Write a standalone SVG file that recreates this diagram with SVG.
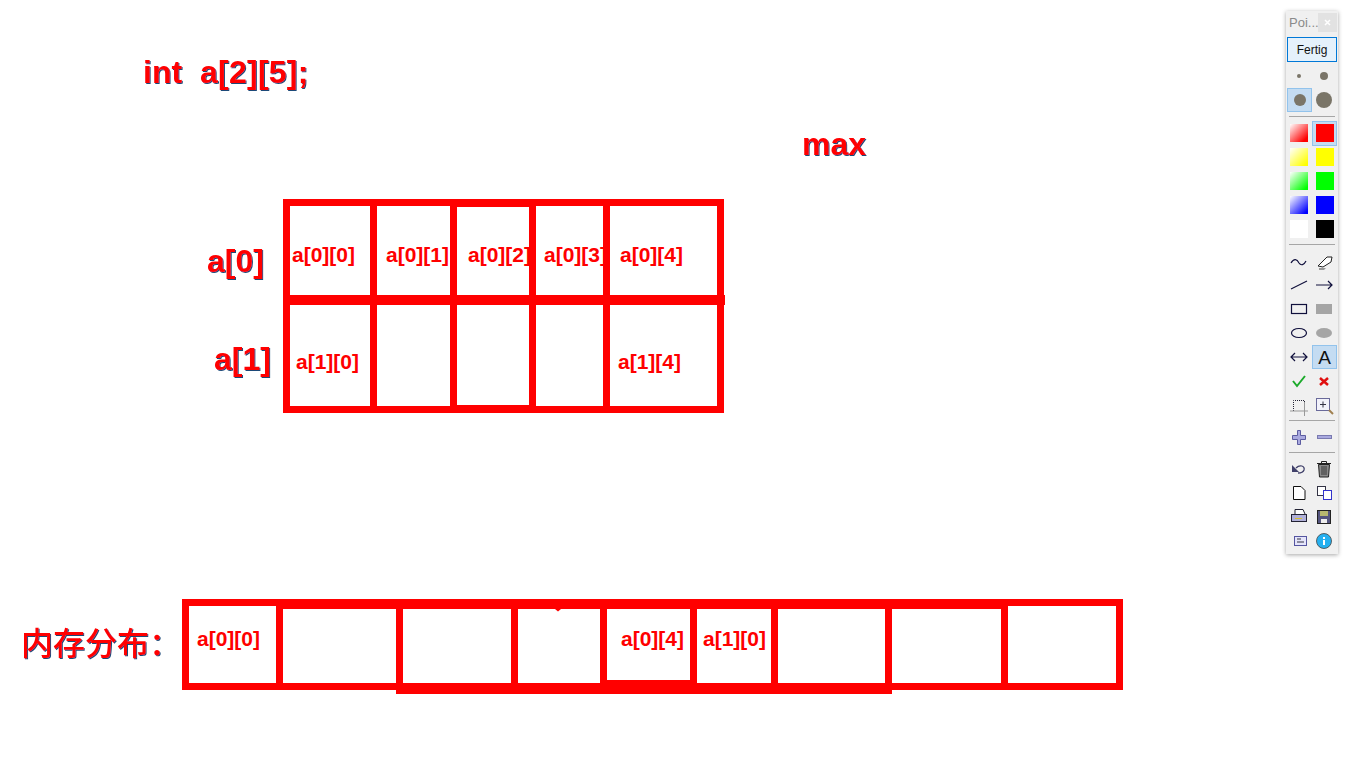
<svg xmlns="http://www.w3.org/2000/svg" width="1366" height="768" viewBox="0 0 1366 768">
<style>
text{font-family:"Liberation Sans",Arial,sans-serif;font-weight:bold;fill:#ff0000}
.big{font-size:32px}
.small{font-size:21px}
.cjk{font-family:"Noto Sans CJK SC",sans-serif;font-size:32px;font-weight:500}
.r{fill:#ff0000}
.sep{fill:#a6a6a6}
.sel{fill:#c4dcf2;stroke:#92c3ec;stroke-width:1}
.dot{fill:#7a7568}
.ic{fill:none;stroke:#10103c;stroke-width:1.2}
.gr{fill:#a5a5a5}
.tl{font-family:"Liberation Sans",Arial,sans-serif;font-weight:normal;fill:#111}
</style>
<defs>
<filter id="sh" x="-5%" y="-10%" width="110%" height="125%"><feDropShadow dx="1" dy="1" stdDeviation="0.25" flood-color="#1c4a78"/></filter>
<filter id="ps" x="-30%" y="-5%" width="160%" height="110%"><feDropShadow dx="0" dy="1" stdDeviation="2" flood-color="#000" flood-opacity="0.35"/></filter>
<linearGradient id="g1" x1="1" y1="1" x2="0" y2="0"><stop offset="0.15" stop-color="#ff0000"/><stop offset="1" stop-color="#ffffff"/></linearGradient>
<linearGradient id="g2" x1="1" y1="1" x2="0" y2="0"><stop offset="0.1" stop-color="#ffff00"/><stop offset="1" stop-color="#ffffff"/></linearGradient>
<linearGradient id="g3" x1="1" y1="1" x2="0" y2="0"><stop offset="0.1" stop-color="#00ff00"/><stop offset="1" stop-color="#ffffff"/></linearGradient>
<linearGradient id="g4" x1="1" y1="1" x2="0" y2="0"><stop offset="0.1" stop-color="#0000ff"/><stop offset="1" stop-color="#ffffff"/></linearGradient>
</defs>
<rect width="1366" height="768" fill="#ffffff"/>

<g id="title" filter="url(#sh)"><text class="big" x="143" y="83" xml:space="preserve">int  <tspan x="200" letter-spacing="0.25">a[2][5];</tspan></text></g>
<g id="max" filter="url(#sh)"><text class="big" x="802" y="155">max</text></g>
<g id="label-a0" filter="url(#sh)"><text class="big" x="207" y="272">a[0]</text></g>
<g id="label-a1" filter="url(#sh)"><text class="big" x="214" y="370">a[1]</text></g>
<g id="label-mem" filter="url(#sh)"><text class="cjk" x="21" y="655">内存分布：</text></g>

<g id="table-2d">
<path class="r" fill-rule="evenodd" d="M283 199H724V295H725V305H724V413H283ZM290 206V295H370V206ZM377 206V295H450V206ZM457 207V295H529V207ZM536 206V295H603V206ZM610 206V295H717V206ZM290 305V406H370V305ZM377 305V406H450V305ZM457 305V405H529V305ZM536 305V406H603V305ZM610 305V406H717V305Z"/>
</g>
<g id="table-mem">
<path class="r" fill-rule="evenodd" d="M182 599H1123V690H892V694H396V690H182ZM189 606V683H276V606ZM283 609V683H396V609ZM403 609V683H511V609ZM518 609V683H600V609ZM607 609V680H690V609ZM697 609V683H771V609ZM778 609V683H885V609ZM892 609V683H1001V609ZM1008 606V683H1116V606Z"/>
<path class="r" d="M555 609H561L558 611.500Z"/>
</g>

<g id="cells">
<text class="small" x="292" y="262">a[0][0]</text>
<text class="small" x="386" y="262">a[0][1]</text>
<text class="small" x="468" y="262">a[0][2]</text>
<text class="small" x="544" y="262">a[0][3]</text>
<text class="small" x="620" y="262">a[0][4]</text>
<text class="small" x="296" y="369">a[1][0]</text>
<text class="small" x="618" y="369">a[1][4]</text>
<text class="small" x="197" y="646">a[0][0]</text>
<text class="small" x="621" y="646">a[0][4]</text>
<text class="small" x="703" y="646">a[1][0]</text>
</g>

<g id="toolbar">
<rect x="1286" y="11" width="52" height="543" fill="#f0f0f0" filter="url(#ps)"/>
<text class="tl" x="1289" y="27" font-size="13" style="fill:#8a8a8a">Poi...</text>
<rect x="1318" y="13" width="19" height="19" fill="#e2e2e2"/>
<path d="M1325 20L1330 25M1330 20L1325 25" stroke="#fff" stroke-width="1.5"/>
<rect x="1287.500" y="37.500" width="49" height="24" fill="#e5f1fb" stroke="#0078d7"/>
<text class="tl" x="1312" y="54" font-size="12" text-anchor="middle">Fertig</text>
<circle class="dot" cx="1299" cy="76" r="2"/><circle class="dot" cx="1324" cy="76" r="4"/>
<rect class="sel" x="1287.500" y="88.500" width="24" height="23"/>
<circle class="dot" cx="1300" cy="100" r="6"/><circle class="dot" cx="1324" cy="100" r="8"/>
<rect class="sep" x="1289" y="116" width="46" height="1"/>
<rect class="sel" x="1312.500" y="121.500" width="24" height="24"/>
<rect x="1290" y="124" width="18" height="18" fill="url(#g1)"/><rect x="1316" y="124" width="18" height="18" fill="#ff0000"/>
<rect x="1290" y="148" width="18" height="18" fill="url(#g2)"/><rect x="1316" y="148" width="18" height="18" fill="#ffff00"/>
<rect x="1290" y="172" width="18" height="18" fill="url(#g3)"/><rect x="1316" y="172" width="18" height="18" fill="#00ff00"/>
<rect x="1290" y="196" width="18" height="18" fill="url(#g4)"/><rect x="1316" y="196" width="18" height="18" fill="#0000ff"/>
<rect x="1290" y="220" width="18" height="18" fill="#ffffff"/><rect x="1316" y="220" width="18" height="18" fill="#000000"/>
<rect class="sep" x="1289" y="244" width="46" height="1"/>
<path class="ic" d="M1291 263C1294 258 1297 259 1299 263C1301 266 1304 265 1306 261"/>
<path d="M1318 266L1327 257L1332 257L1331 262L1323 267Z" fill="#fff" stroke="#222"/><path d="M1319 268H1326L1324 270H1319Z" fill="#999"/>
<path class="ic" d="M1291 289L1307 281"/>
<path class="ic" d="M1316 285H1332M1328 281L1332 285L1328 289"/>
<rect class="ic" x="1291.500" y="304.500" width="15" height="9"/>
<rect class="gr" x="1316" y="304" width="16" height="10"/>
<ellipse class="ic" cx="1299" cy="333" rx="7.500" ry="4.500"/>
<ellipse class="gr" cx="1324" cy="333" rx="8" ry="5"/>
<path class="ic" d="M1291 357H1307M1295 353L1291 357L1295 361M1303 353L1307 357L1303 361"/>
<rect class="sel" x="1312.500" y="345.500" width="24" height="23"/>
<text class="tl" x="1324.500" y="364" font-size="19" text-anchor="middle">A</text>
<path d="M1293 381L1297 386L1305 376" fill="none" stroke="#1aaa2a" stroke-width="2"/>
<path d="M1320 378L1328 385M1328 378L1320 385" stroke="#e01010" stroke-width="2.500"/>
<path d="M1293.500 411V400.500H1304.500V411" fill="none" stroke="#223" stroke-dasharray="1 1"/>
<path d="M1290 411H1308M1304.500 402V416" fill="none" stroke="#999"/>
<rect x="1316.500" y="398.500" width="13" height="12" fill="#f2f2fa" stroke="#6a6a9a"/>
<path d="M1320 404.500H1326M1323 401.500V407.500" stroke="#334"/><path d="M1329 410L1333 414" stroke="#a08050" stroke-width="2"/>
<rect class="sep" x="1289" y="420" width="46" height="1"/>
<path d="M1297.500 430.500H1300.500V435.500H1305.500V439.500H1300.500V444.500H1297.500V439.500H1292.500V435.500H1297.500Z" fill="#a9a9df" stroke="#5c5ca0"/>
<rect x="1317.500" y="435.500" width="14" height="3" fill="#a9a9df" stroke="#7a7ab0"/>
<rect class="sep" x="1289" y="452" width="46" height="1"/>
<path d="M1292 465V472H1299Z" fill="#40406a"/><path d="M1296 468C1300 464 1305 466 1304 470C1303 473 1300 473 1298 473" fill="none" stroke="#40406a" stroke-width="1.300"/>
<path d="M1317 463.500H1331M1321.500 463.500V461.500H1326.500V463.500" fill="none" stroke="#222"/><path d="M1318.500 464.500L1319.500 477H1328.500L1329.500 464.500Z" fill="#8a8a8a" stroke="#222"/><path d="M1322 466V475M1324 466V475M1326 466V475" stroke="#222" stroke-width="0.800"/>
<path d="M1293.500 486.500H1301L1305 490.500V499.500H1293.500Z" fill="#fff" stroke="#111"/>
<rect x="1317.500" y="486.500" width="8" height="9" fill="#fff" stroke="#334"/><rect x="1323.500" y="490.500" width="8" height="9" fill="#fff" stroke="#3333cc"/>
<path d="M1295 514V509.500H1303L1305 514" fill="#fff" stroke="#223"/><rect x="1291.500" y="514.500" width="15" height="7" fill="#b0b0d8" stroke="#223"/><rect x="1295" y="518" width="7" height="1" fill="#d8c030"/>
<rect x="1317.500" y="510.500" width="13" height="13" fill="#55557f" stroke="#222"/><rect x="1320" y="511" width="8" height="5" fill="#b8b870"/><rect x="1321" y="519" width="6" height="4" fill="#eee"/>
<rect x="1294.500" y="536.500" width="12" height="9" fill="#e4e4fa" stroke="#5555a0"/><path d="M1297 539H1301M1297 542H1304" stroke="#334"/>
<circle cx="1324" cy="541" r="7.500" fill="#25b0f0" stroke="#444" stroke-width="0.800"/>
<rect x="1323" y="540" width="2" height="5" fill="#fff"/><rect x="1323" y="537" width="2" height="2" fill="#fff"/>
</g>
</svg>
